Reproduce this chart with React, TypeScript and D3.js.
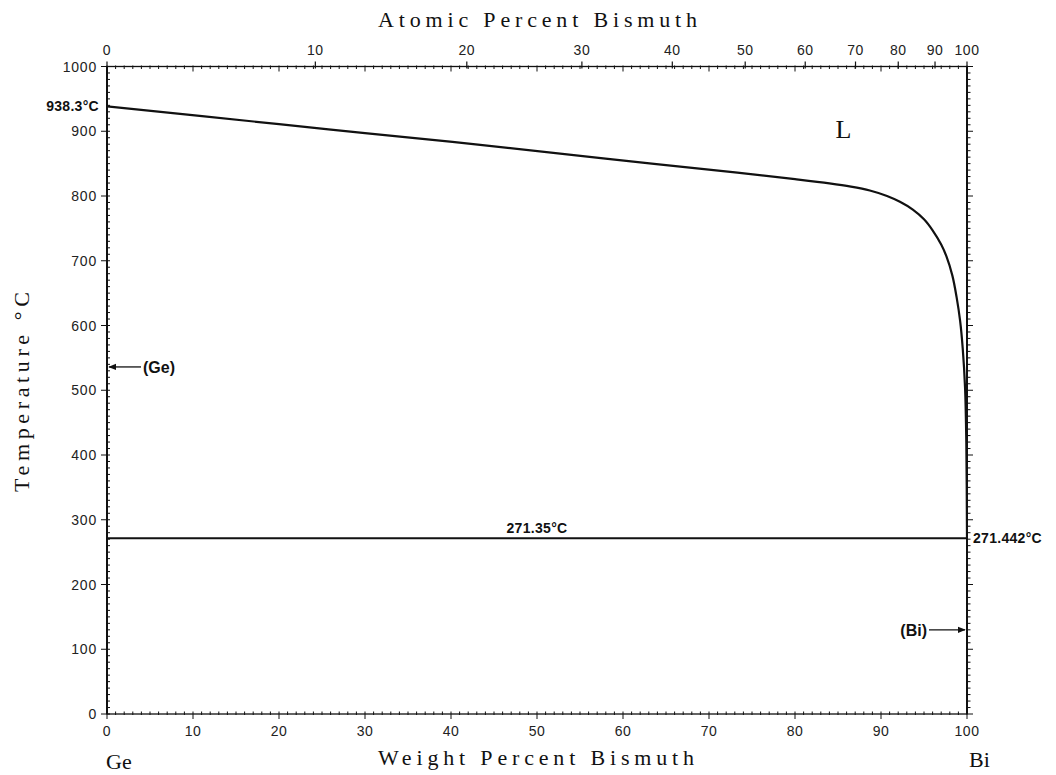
import React from "react";
import * as d3 from "d3";

const liquidusWt = [0, 20, 30, 43.4, 57.7, 73.3, 80, 84, 86.5, 88.7, 90.7, 92.2, 93.7, 95.0, 96.0, 97.0, 97.6, 98.3, 98.8, 99.2, 99.5, 99.77, 99.92, 100];
const liquidusT = [938.3, 911, 897, 879, 858, 836, 826, 819.5, 814.5, 808.5, 800, 791, 779, 764, 747, 725, 707, 677, 643, 607, 565, 505, 420, 271.442];
const eutecticWt = [0, 100];
const eutecticT = [271.35, 271.442];
const atomicTicks = [0, 10, 20, 30, 40, 50, 60, 70, 80, 90, 100];
const wtTicks = [0, 10, 20, 30, 40, 50, 60, 70, 80, 90, 100];
const tempTicks = [0, 100, 200, 300, 400, 500, 600, 700, 800, 900, 1000];
const M_BI = 208.98;
const M_GE = 72.63;

const W = 1056, H = 775;
const X0 = 107, X1 = 967, Y0 = 714, Y1 = 66.5;

function atToWt(a: number) {
  return (a * M_BI) / (a * M_BI + (100 - a) * M_GE) * 100;
}

export default function App() {
  const x = d3.scaleLinear().domain([0, 100]).range([X0, X1]);
  const y = d3.scaleLinear().domain([0, 1000]).range([Y0, Y1]);
  const pts = liquidusWt.map((w, i) => [w, liquidusT[i]] as [number, number]);
  const line = d3.line<[number, number]>().x(d => x(d[0])).y(d => y(d[1])).curve(d3.curveCatmullRom.alpha(0.5));
  const minorWt = d3.range(0, 101, 1);
  const minorT = d3.range(0, 1001, 10);
  const tickFont = "'Liberation Sans', Arial, sans-serif";
  const titleFont = "'Liberation Serif', 'DejaVu Serif', serif";
  const arrowGe = y(536);
  const arrowBi = y(130);
  return (
    <svg width={W} height={H} style={{ position: "absolute", left: 0, top: 0, background: "#fff" }}>
      <defs>
        <marker id="ah" viewBox="0 0 10 10" refX="9" refY="5" markerWidth="8" markerHeight="6" orient="auto">
          <path d="M0,1 L10,5 L0,9 z" fill="#111" />
        </marker>
        <clipPath id="plot">
          <rect x={X0} y={Y1} width={X1 - X0} height={Y0 - Y1} />
        </clipPath>
      </defs>
      {/* frame */}
      <rect x={X0} y={Y1} width={X1 - X0} height={Y0 - Y1} fill="none" stroke="#111" strokeWidth={1.3} />
      <line x1={X0} x2={X0} y1={Y1} y2={Y0} stroke="#111" strokeWidth={2} />
      <line x1={X1} x2={X1} y1={Y1} y2={Y0} stroke="#111" strokeWidth={2} />
      {/* bottom & top wt ticks */}
      {minorWt.map(v => (
        <g key={"w" + v}>
          <line x1={x(v)} x2={x(v)} y1={Y0 - 2.5} y2={Y0 + (v % 10 === 0 ? 5 : 1)} stroke="#111" strokeWidth={1} />
          <line x1={x(v)} x2={x(v)} y1={Y1 - 1} y2={Y1 + (v % 10 === 0 ? 5 : 2.5)} stroke="#111" strokeWidth={1} />
        </g>
      ))}
      {/* top atomic ticks */}
      {atomicTicks.map(a => (
        <g key={"a" + a}>
          <line x1={x(atToWt(a))} x2={x(atToWt(a))} y1={Y1 - 5} y2={Y1 + 2} stroke="#111" strokeWidth={1.2} />
          <text x={x(atToWt(a))} y={Y1 - 12} textAnchor="middle" fontFamily={tickFont} fontSize={14} letterSpacing={0.5} fill="#222">{a}</text>
        </g>
      ))}
      {/* left & right temperature ticks */}
      {minorT.map(v => (
        <g key={"t" + v}>
          <line x1={X0 - (v % 100 === 0 ? 6 : 1)} x2={X0 + 3} y1={y(v)} y2={y(v)} stroke="#111" strokeWidth={1} />
          <line x1={X1 - 1} x2={X1 + (v % 100 === 0 ? 6 : 3.5)} y1={y(v)} y2={y(v)} stroke="#111" strokeWidth={1} />
        </g>
      ))}
      {tempTicks.map(v => (
        <text key={"tl" + v} x={X0 - 10} y={y(v) + 5} textAnchor="end" fontFamily={tickFont} fontSize={14} letterSpacing={0.8} fill="#222">{v}</text>
      ))}
      {wtTicks.map(v => (
        <text key={"wl" + v} x={x(v)} y={Y0 + 22} textAnchor="middle" fontFamily={tickFont} fontSize={14} letterSpacing={0.5} fill="#222">{v}</text>
      ))}
      {/* curves */}
      <path d={line(pts) || ""} fill="none" stroke="#111" strokeWidth={2.2} clipPath="url(#plot)" />
      <line x1={x(eutecticWt[0])} x2={x(eutecticWt[1])} y1={y(eutecticT[0])} y2={y(eutecticT[1])} stroke="#111" strokeWidth={2} />
      {/* annotations */}
      <text x={X0 - 8} y={y(938.3) + 5} textAnchor="end" fontFamily={tickFont} fontSize={14} fontWeight="bold" letterSpacing={0.3} fill="#111">938.3°C</text>
      <text x={x(50)} y={y(271.35) - 5} textAnchor="middle" fontFamily={tickFont} fontSize={14} fontWeight="bold" letterSpacing={0.3} fill="#111">271.35°C</text>
      <text x={X1 + 6} y={y(271.442) + 5} textAnchor="start" fontFamily={tickFont} fontSize={14} fontWeight="bold" letterSpacing={0.3} fill="#111">271.442°C</text>
      <text x={x(84.7)} y={y(890)} fontFamily={titleFont} fontSize={26} fill="#111">L</text>
      <line x1={X0 + 34} x2={X0 + 2} y1={arrowGe} y2={arrowGe} stroke="#111" strokeWidth={1.3} markerEnd="url(#ah)" />
      <text x={X0 + 36} y={arrowGe + 6} fontFamily={tickFont} fontSize={16} fontWeight="bold" fill="#111">(Ge)</text>
      <line x1={X1 - 38} x2={X1 - 2} y1={arrowBi} y2={arrowBi} stroke="#111" strokeWidth={1.3} markerEnd="url(#ah)" />
      <text x={X1 - 40} y={arrowBi + 6} textAnchor="end" fontFamily={tickFont} fontSize={16} fontWeight="bold" fill="#111">(Bi)</text>
      {/* titles */}
      <text x={378} y={27} textLength={319} lengthAdjust="spacing" fontFamily={titleFont} fontSize={22} fill="#111">Atomic Percent Bismuth</text>
      <text x={378} y={765} textLength={316} lengthAdjust="spacing" fontFamily={titleFont} fontSize={22} fill="#111">Weight Percent Bismuth</text>
      <text transform={`translate(29,${392}) rotate(-90)`} x={-100} textLength={200} lengthAdjust="spacing" fontFamily={titleFont} fontSize={22} fill="#111">Temperature °C</text>
      <text x={106} y={769} fontFamily={titleFont} fontSize={22} fill="#111">Ge</text>
      <text x={969} y={767} fontFamily={titleFont} fontSize={22} fill="#111">Bi</text>
    </svg>
  );
}
